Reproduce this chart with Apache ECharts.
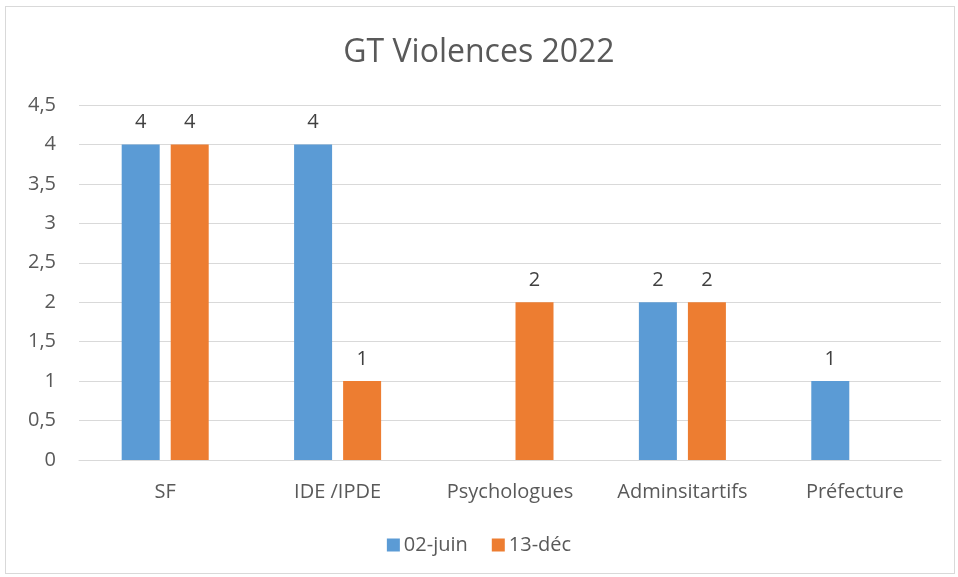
<!DOCTYPE html>
<html>
<head>
<meta charset="utf-8">
<script src="https://cdn.jsdelivr.net/npm/echarts@6/dist/echarts.min.js"></script>
<style>
  html, body { margin: 0; padding: 0; background: #fff; }
  #frame { position: absolute; left: 5px; top: 6px; width: 950px; height: 568px; border: 1px solid #d9d9d9; box-sizing: border-box; }
  #chart { position: absolute; left: 0; top: 0; width: 958px; height: 577px; }
</style>
</head>
<body>
<div id="frame"></div>
<div id="chart"></div>
<script>
// Participants par catégorie, aux deux réunions du groupe de travail
const categories = ['SF', 'IDE /IPDE', 'Psychologues', 'Adminsitartifs', 'Préfecture'];
const juin = [4, 4, null, 2, 1];
const dec = [4, 1, 2, 2, null];
const seriesNames = ['02-juin', '13-déc'];

const font = "'Open Sans', 'Liberation Sans', sans-serif";
const chart = echarts.init(document.getElementById('chart'), null, { renderer: 'canvas' });

const label = {
  show: true, position: 'top', distance: 12,
  color: '#404040', fontSize: 20, fontFamily: font
};

chart.setOption({
  animation: false,
  title: {
    text: 'GT Violences 2022', left: 'center', top: 32,
    textStyle: { color: '#595959', fontSize: 32, fontWeight: 'normal', fontFamily: font }
  },
  legend: {
    data: seriesNames, bottom: 17, left: 'center',
    itemWidth: 13, itemHeight: 13, itemGap: 24,
    icon: 'rect',
    textStyle: { color: '#595959', fontSize: 20, fontFamily: font, padding: [0, 0, 0, -1] }
  },
  grid: { left: 79, right: 17, top: 105, bottom: 117, containLabel: false },
  xAxis: {
    type: 'category', data: categories,
    axisLine: { show: true, lineStyle: { color: '#d9d9d9', width: 1 } },
    axisTick: { show: false },
    axisLabel: { color: '#595959', fontSize: 20, fontFamily: font, margin: 22 }
  },
  yAxis: {
    type: 'value', min: 0, max: 4.5, interval: 0.5,
    axisLine: { show: false }, axisTick: { show: false },
    splitLine: { lineStyle: { color: '#d9d9d9', width: 1 } },
    axisLabel: {
      color: '#595959', fontSize: 20, fontFamily: font, margin: 23,
      formatter: v => String(v).replace('.', ',')
    }
  },
  series: [
    { name: seriesNames[0], type: 'bar', data: juin, barWidth: 38, barGap: '29%',
      itemStyle: { color: '#5B9BD5' }, label },
    { name: seriesNames[1], type: 'bar', data: dec, barWidth: 38,
      itemStyle: { color: '#ED7D31' }, label }
  ]
});
</script>
</body>
</html>
